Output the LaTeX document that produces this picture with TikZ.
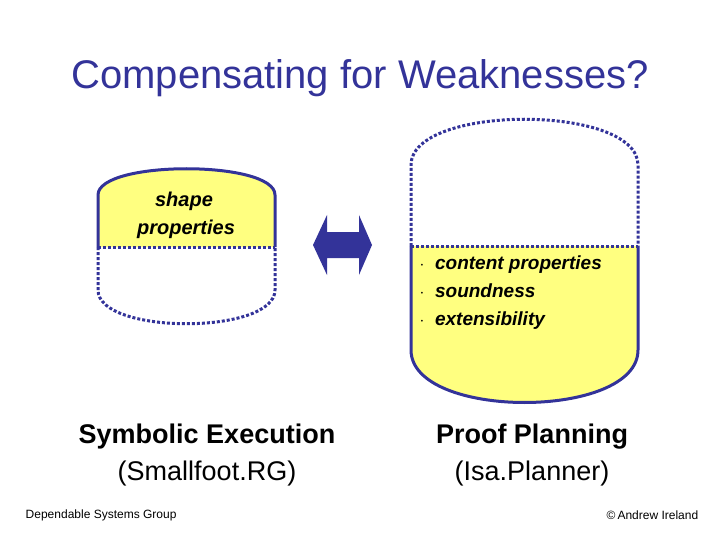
\documentclass[tikz,border=0pt]{standalone}
\usepackage{fontspec}
\setmainfont{Liberation Sans}
\begin{document}
\begin{tikzpicture}[x=1pt, y=-1pt, thick,
    solidpart/.style = {draw=deepblue, line width=3pt},
    dotpart/.style = {draw=deepblue, line width=3pt, dotted},
    caption/.style = {font=\fontsize{27}{37}\selectfont, align=center}]
    \definecolor{deepblue}{RGB}{51,51,153}
    \definecolor{paleyellow}{RGB}{255,255,128}
    \useasboundingbox (0,0) rectangle (720,540);

    \node[text=deepblue, font=\fontsize{40}{48}\selectfont] (title) at (360,78) {Compensating for Weaknesses?};

    % left tank
    \fill[paleyellow] (98,247) -- (98,195) .. controls (98,160) and (275,160) .. (275,195) -- (275,247) -- cycle;
    \draw[solidpart] (98,247) -- (98,195) .. controls (98,160) and (275,160) .. (275,195) -- (275,247);
    \draw[dotpart] (98,247) -- (275,247);
    \draw[dotpart] (98,247) -- (98,290) .. controls (98,335) and (275,335) .. (275,290) -- (275,247);
    \node[font=\bfseries\itshape\fontsize{20}{28}\selectfont, align=left] (shape) at (186,215) {\hspace*{18pt}shape\\properties};

    % arrow
    \fill[deepblue] (313,245) -- (327,215) -- (327,232) -- (359,232) -- (359,215) -- (372,245)
        -- (359,275) -- (359,258) -- (327,258) -- (327,275) -- cycle;

    % right tank
    \fill[paleyellow] (411,246) -- (411,350) .. controls (411,420) and (638,420) .. (638,350) -- (638,246) -- cycle;
    \draw[solidpart] (411,246) -- (411,350) .. controls (411,420) and (638,420) .. (638,350) -- (638,246);
    \draw[dotpart] (411,246) -- (638,246);
    \draw[dotpart] (411,246) -- (411,165) .. controls (411,104) and (638,104) .. (638,165) -- (638,246);
    \node[font=\bfseries\itshape\fontsize{19}{28}\selectfont, align=left, anchor=north west] (props) at (416,252)
        {$\cdot$\ \ content properties\\$\cdot$\ \ soundness\\$\cdot$\ \ extensibility};

    \node[caption] (symb) at (207,455) {\textbf{Symbolic Execution}\\(Smallfoot.RG)};
    \node[caption] (plan) at (532,455) {\textbf{Proof Planning}\\(Isa.Planner)};

    \node[font=\fontsize{12}{14}\selectfont, anchor=west] (group) at (22,515) {Dependable Systems Group};
    \node[font=\fontsize{12}{14}\selectfont, anchor=east] (copy) at (702,515) {\textcopyright\,Andrew Ireland};
\end{tikzpicture}
\end{document}
